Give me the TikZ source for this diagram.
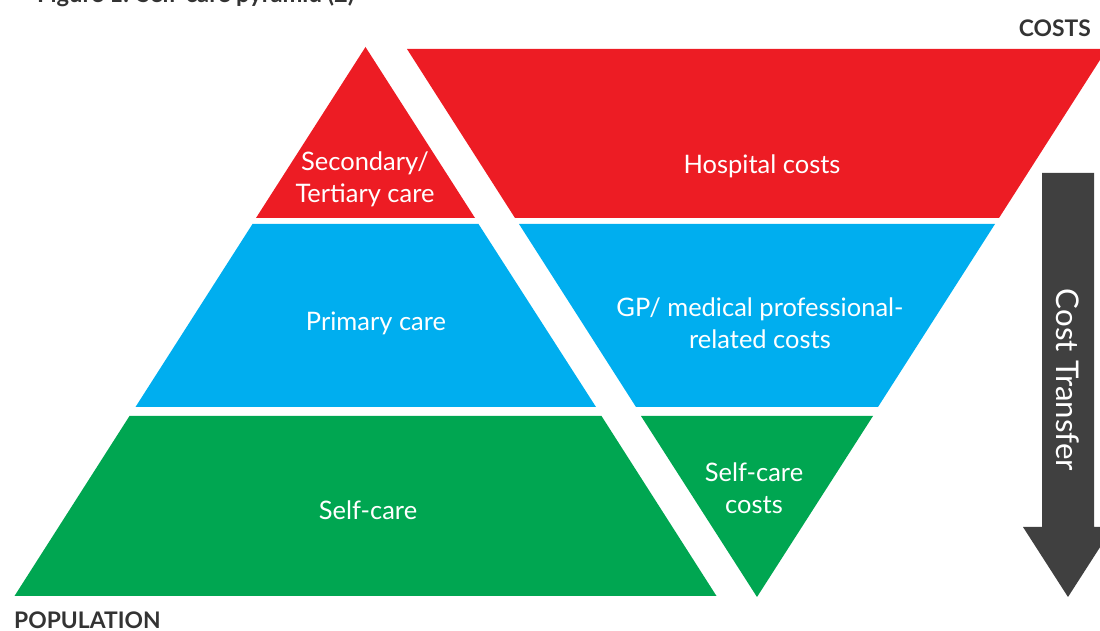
\documentclass[tikz,border=0pt]{standalone}
\usepackage{fontspec}
\setmainfont{Lato}
\definecolor{carered}{HTML}{ED1C24}
\definecolor{careblue}{HTML}{00AEEF}
\definecolor{caregreen}{HTML}{00A651}
\definecolor{arrowgray}{HTML}{404040}
\definecolor{headgray}{HTML}{333333}
\tikzset{
    band/.style={text=white, align=center, font=\fontsize{14.5}{18}\selectfont},
    axislabel/.style={text=headgray, font=\fontsize{13}{15}\selectfont\bfseries}
}
\begin{document}
\begin{tikzpicture}[x=0.02cm, y=-0.02cm]
        \useasboundingbox (0,0) rectangle (1100,631);
        % population pyramid
        \fill[carered] (365.5,47) -- (475,218) -- (256,218) -- cycle;
        \fill[careblue] (252.5,224) -- (478.5,224) -- (596,407) -- (135.5,407) -- cycle;
        \fill[caregreen] (129.5,416) -- (601.5,416) -- (716.5,596) -- (14.5,596) -- cycle;
        % cost pyramid
        \fill[carered] (407,49) -- (1107,49) -- (999,218) -- (515,218) -- cycle;
        \fill[careblue] (519,224) -- (995,224) -- (878,407) -- (636,407) -- cycle;
        \fill[caregreen] (641,416) -- (873,416) -- (757,597) -- cycle;
        % transfer arrow
        \fill[arrowgray] (1042,173) -- (1094,173) -- (1094,527) -- (1113,527) -- (1068,597)
            -- (1023,527) -- (1042,527) -- cycle;

        \node[band] (secondary) at (365,179) {Secondary/\\Tertiary care};
        \node[band] (primary) at (376,323) {Primary care};
        \node[band] (selfcare) at (368,510) {Self-care};
        \node[band] (hospital) at (762,166) {Hospital costs};
        \node[band] (gpcosts) at (760,323) {GP/ medical professional-\\related costs};
        \node[band] (selfcosts) at (754,488) {Self-care\\costs};
        \node[band, rotate=-90, font=\fontsize{17.8}{20}\selectfont] (transfer) at (1068,380) {Cost Transfer};

        \node[axislabel, anchor=east] (costs) at (1097,28) {COSTS};
        \node[axislabel, anchor=west] (population) at (8,620) {POPULATION};
        \node[axislabel, anchor=base west, font=\fontsize{13.5}{16}\selectfont\bfseries] (title) at (31,3) {Figure 1: Self-care pyramid (2)};
        \end{tikzpicture}
\end{document}
